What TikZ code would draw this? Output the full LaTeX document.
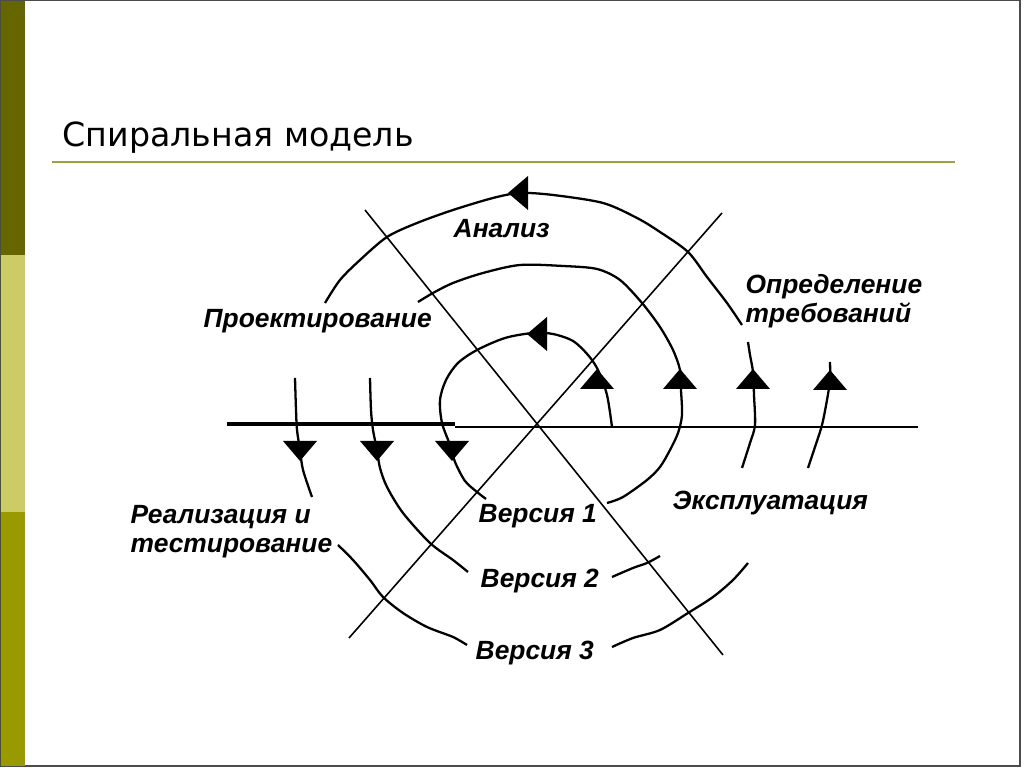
\documentclass[tikz,border=0pt]{standalone}
\usepackage{fontspec}
\setmainfont{Liberation Sans}
\newfontfamily\titlefont{DejaVu Sans}
\usepackage{tikz}

\definecolor{bardark}{HTML}{666600}
\definecolor{barpale}{HTML}{CCCC66}
\definecolor{barolive}{HTML}{999900}
\definecolor{rulecol}{HTML}{A0A040}

\tikzset{
  spiral/.style={line width=0.65pt, black},
  cross/.style={line width=0.45pt, black},
  lbl/.style={font=\fontsize{7.5}{8.3}\selectfont\bfseries\itshape, anchor=base west, inner sep=0pt},
  tri/.pic={\fill[black] (0,-10) -- (17,10) -- (-17,10) -- cycle;}
}

\begin{document}
\begin{tikzpicture}[x=0.01cm, y=-0.01cm]

        \useasboundingbox (0,0) rectangle (1024,768);

        % slide frame and side bar
        \draw[gray!60!black, line width=0.5pt] (0.5,0.5) rectangle (1020,766);
        \fill[bardark] (1,1) rectangle (25,255);
        \fill[barpale] (1,255) rectangle (25,512);
        \fill[barolive] (1,512) rectangle (25,766);

        \node[anchor=base west, inner sep=0pt, font=\titlefont\fontsize{9.45}{12}\selectfont] (title) at (62,147) {Спиральная модель};
        \draw[rulecol, line width=0.6pt] (52,162) -- (955,162);

        % axes
        \draw[line width=1pt] (227,424) -- (455,424);
        \draw[line width=0.4pt] (455,427) -- (918,427);
        \draw[cross] (365,210) -- (723,655);
        \draw[cross] (722,213) -- (349,638);

        % spiral
        \draw[spiral] plot[smooth, tension=0.5] coordinates {(612,427) (607,395) (598,370) (588,355) (573,341) (553,334) (533,333) (505,338) (477,350) (458,363) (446,380) (440,400) (442,423) (450,445) (455,462) (465,481) (477,492) (486,499)};
        \draw[spiral] plot[smooth, tension=0.5] coordinates {(607,503) (623,497) (647,480) (660,467) (670,450) (678,433) (682,415) (681,390) (680,370) (673,350) (660,327) (642,303) (620,280) (597,269) (563,266) (520,265) (483,273) (453,283) (433,293) (418,302)};
        \draw[spiral] plot[smooth, tension=0.5] coordinates {(370,378) (371,410) (373,430) (377,450) (380,468) (387,487) (403,513) (430,543) (453,560) (468,572)};
        \draw[spiral] plot[smooth, tension=0.5] coordinates {(612,577) (633,568) (647,563) (660,556)};
        \draw[spiral] plot[smooth, tension=0.5] coordinates {(742,468) (750,443) (755,425) (754,395) (753,372) (750,355) (748,342)};
        \draw[spiral] plot[smooth, tension=0.5] coordinates {(742,325) (727,303) (707,277) (688,252) (660,232) (637,218) (603,203) (553,195) (520,193) (493,198) (453,210) (417,223) (387,237) (360,260) (340,280) (325,303)};
        \draw[spiral] plot[smooth, tension=0.5] coordinates {(295,378) (296,410) (297,430) (300,450) (303,470) (312,497)};
        \draw[spiral] plot[smooth, tension=0.5] coordinates {(338,545) (353,560) (370,580) (383,597) (403,613) (427,627) (453,637) (467,645)};
        \draw[spiral] plot[smooth, tension=0.5] coordinates {(612,647) (633,638) (660,630) (688,613) (713,597) (733,580) (748,563)};
        \draw[spiral] plot[smooth, tension=0.5] coordinates {(808,468) (815,447) (822,425) (827,400) (830,380) (830,362)};

        % arrowheads
        \pic at (597,379) {tri};
        \pic at (680,379) {tri};
        \pic at (753,379) {tri};
        \pic at (830,380) {tri};
        \pic[rotate=180] at (300,451) {tri};
        \pic[rotate=180] at (377,451) {tri};
        \pic[rotate=180] at (452,451) {tri};
        \pic[rotate=90] at (518,193) {tri};
        \pic[rotate=90] at (537,334) {tri};

        % labels
        \node[lbl] (analiz) at (453,238) {Анализ};
        \node[lbl, align=left] (treb) at (745,323) {Определение\\требований};
        \node[lbl] (proekt) at (203,328) {Проектирование};
        \node[lbl, align=left] (realiz) at (130,553) {Реализация и\\тестирование};
        \node[lbl] (ver1) at (478,523) {Версия 1};
        \node[lbl] (ver2) at (480,588) {Версия 2};
        \node[lbl] (ver3) at (475,660) {Версия 3};
        \node[lbl] (ekspl) at (672,510) {Эксплуатация};

\end{tikzpicture}
\end{document}
